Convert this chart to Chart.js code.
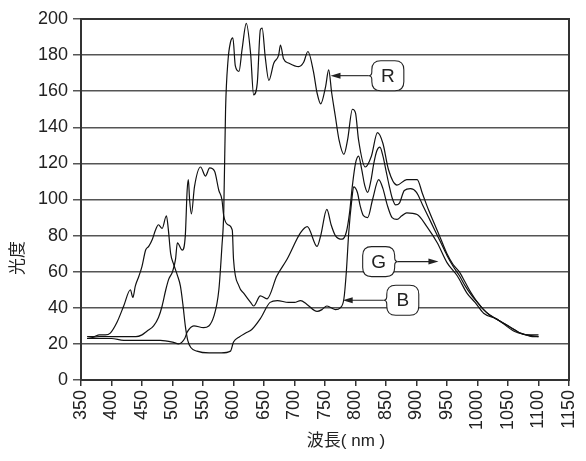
<!DOCTYPE html>
<html>
<head>
<meta charset="utf-8">
<script src="https://cdn.jsdelivr.net/npm/chart.js@4.4.1/dist/chart.umd.min.js"></script>
<style>
html, body { margin: 0; padding: 0; background: #fff; }
canvas { display: block; }
</style>
</head>
<body>
<canvas id="myChart" width="586" height="461"></canvas>
<script>
// wavelength (nm) / brightness samples
var rWl = [360,380,400,420,440,460,480,500,510,520,524,535,551,568,576,581,584,587,591,595,599,603,609,614,621,628,633,639,644,647,652,658,666,674,677,682,691,707,715,722,731,737,743,751,756,761,767,773,781,787,795,800,805,816,826,836,845,854,868,884,901,910,920,930,940,950,960,970,980,990,1000,1010,1020,1030,1040,1050,1060,1070,1080,1090,1100];
var rVal = [23,23,23,22,22,22,22,21,20,23,26.5,30,29,35.5,50,74,93,150,177,187,189.5,174,171,183,197.6,181,158,164.6,194,195,179,166,175.5,180,185.6,178,175.5,173.6,176,182,171,159,153,162.6,171.8,159,146,133,125,133,150,148,133,118,124,137,131,116.6,108,111,111,103,94,86,78,70,64,60,54,48,43,39,36,34,32,30,28,26,25,24,24];

var gWl = [360,380,400,420,440,450,458,469,477,483,489,494,500,505,508,516,521,524,526,528,531,536,546,554,561,569,576,581,584,591,598,600,609,617,628,633,644,655,671,688,710,721,737,743,753,760,767,778,785,790,795,800,805,810,815,820,825,830,835,840,845,850,855,860,866,872,880,890,900,910,920,930,940,950,960,970,980,990,1000,1010,1020,1030,1040,1050,1060,1070,1080,1090,1100];
var gVal = [23,24,24,24,24,25,27,30,34.6,41,50,56,60,67,76,72,80,105,111,100,92,107,118,113,117.5,115.6,105,100,91,86,83,67,52,48,43,41,46.6,45,57.6,67,81.6,85,74,80,94.5,86,80,78,82,92,108,120,124,117,108,104,110,120,127,129,124,116,108,101,97,98,105,106,104,97,90,83,76,69,63,58,52,47,43,39,36,34,32,30,28,26,25,25,25];

var bWl = [360,370,380,390,398,409,420,431,435,439,445,450,456,461,467,472,477,483,490,493,497,502,508,513,517,521,525,530,540,560,580,595,600,610,620,630,644,660,672,690,700,710,720,737,745,753,760,767,775,781,785,789,794,797,803,808,813,820,828,838,845,852,860,868,876,884,901,917,934,950,967,983,996,1010,1032,1060,1080,1100];
var bVal = [24,24,25,25,26,32,41,50,45.7,52,57.6,63,72,74,78,83,86,84,91,84,70,64,58,52,42,30,22,18,16,15,15,16,21,24,26,28,34,43,44,43,43,44,42,38,39,41,40,39,40,45,60,82,100,107,104,96,91,90,100,111,106,97,90,89,91,92.6,91.7,85,76,65,57.6,48,43,37,33.7,27,25,24];

var xTitle = '波長( nm )';
var yTitle = '光度';

// callouts: label, box centre (nm, value), arrow tip (nm)
var notes = [
    { label: 'R', x: 853, y: 168.6, tip: 759 },
    { label: 'G', x: 838, y: 65.6, tip: 936 },
    { label: 'B', x: 877.5, y: 44.2, tip: 779 }
];

function pts(wl, val) {
    return wl.map(function (w, i) { return { x: w, y: val[i] }; });
}

var tickFont = { family: '"Liberation Sans", Arial, sans-serif', size: 18 };

var decorations = {
    id: 'decorations',
    afterDatasetsDraw: function (chart) {
        var ctx = chart.ctx, a = chart.chartArea;
        var xs = chart.scales.x, ys = chart.scales.y;
        ctx.save();
        // frame round the plot
        ctx.strokeStyle = '#333';
        ctx.lineWidth = 2;
        ctx.strokeRect(a.left, a.top, a.right - a.left, a.bottom - a.top);

        // callouts
        notes.forEach(function (n) {
            var cx = xs.getPixelForValue(n.x), cy = ys.getPixelForValue(n.y);
            var tx = xs.getPixelForValue(n.tip);
            var w = 32, h = 30, r = 9;
            var x0 = cx - w / 2, x1 = cx + w / 2, y0 = cy - h / 2, y1 = cy + h / 2;
            var left = tx < cx;
            ctx.lineWidth = 1.1;
            ctx.strokeStyle = '#222';
            ctx.fillStyle = '#fff';
            ctx.beginPath();
            ctx.moveTo(x0 + r, y0);
            ctx.lineTo(x1 - r, y0);
            ctx.quadraticCurveTo(x1, y0, x1, y0 + r);
            if (!left) {
                ctx.lineTo(x1, cy - 4);
                ctx.quadraticCurveTo(x1, cy, x1 + 3, cy);
                ctx.quadraticCurveTo(x1, cy, x1, cy + 4);
            }
            ctx.lineTo(x1, y1 - r);
            ctx.quadraticCurveTo(x1, y1, x1 - r, y1);
            ctx.lineTo(x0 + r, y1);
            ctx.quadraticCurveTo(x0, y1, x0, y1 - r);
            if (left) {
                ctx.lineTo(x0, cy + 4);
                ctx.quadraticCurveTo(x0, cy, x0 - 3, cy);
                ctx.quadraticCurveTo(x0, cy, x0, cy - 4);
            }
            ctx.lineTo(x0, y0 + r);
            ctx.quadraticCurveTo(x0, y0, x0 + r, y0);
            ctx.closePath();
            ctx.fill();
            ctx.stroke();

            // arrow
            var sx = left ? x0 - 3 : x1 + 3;
            var dir = left ? -1 : 1;
            ctx.beginPath();
            ctx.moveTo(sx, cy);
            ctx.lineTo(tx - dir * 8, cy);
            ctx.stroke();
            ctx.fillStyle = '#222';
            ctx.beginPath();
            ctx.moveTo(tx, cy);
            ctx.lineTo(tx - dir * 10, cy - 3);
            ctx.lineTo(tx - dir * 10, cy + 3);
            ctx.closePath();
            ctx.fill();

            ctx.fillStyle = '#222';
            ctx.font = '19px "Liberation Sans", Arial, sans-serif';
            ctx.textAlign = 'center';
            ctx.textBaseline = 'middle';
            ctx.fillText(n.label, cx, cy + 1);
        });

        // axis titles
        ctx.fillStyle = '#222';
        ctx.font = '17px "Liberation Sans", "Noto Sans CJK JP", sans-serif';
        ctx.textAlign = 'center';
        ctx.textBaseline = 'middle';
        ctx.fillText(xTitle, 346, 441);
        ctx.translate(18, 258);
        ctx.rotate(-Math.PI / 2);
        ctx.fillText(yTitle, 0, 0);
        ctx.restore();
    }
};

var config = {
    type: 'line',
    data: {
        datasets: [
            { label: 'R', data: pts(rWl, rVal) },
            { label: 'G', data: pts(gWl, gVal) },
            { label: 'B', data: pts(bWl, bVal) }
        ]
    },
    options: {
        responsive: false,
        animation: false,
        layout: { padding: { top: 19, right: 17, left: 0, bottom: 0 } },
        elements: {
            point: { radius: 0 },
            line: { borderColor: '#111', borderWidth: 1.2, cubicInterpolationMode: 'monotone', fill: false }
        },
        plugins: {
            legend: { display: false },
            tooltip: { enabled: false }
        },
        scales: {
            x: {
                type: 'linear',
                min: 350,
                max: 1150,
                afterFit: function (s) {
                    s.height = 81;
                    s.paddingLeft = 0;
                    s.paddingRight = 0;
                },
                ticks: {
                    stepSize: 50,
                    minRotation: 90,
                    maxRotation: 90,
                    autoSkip: false,
                    padding: 4,
                    color: '#222',
                    font: tickFont,
                    callback: function (v) { return String(v); }
                },
                grid: { drawOnChartArea: false, tickLength: 6, color: '#333', lineWidth: 1.5 },
                border: { color: '#333', width: 2 }
            },
            y: {
                min: 0,
                max: 200,
                afterFit: function (s) {
                    s.width = 81;
                    s.paddingTop = 0;
                    s.paddingBottom = 0;
                },
                ticks: {
                    stepSize: 20,
                    padding: 5,
                    color: '#222',
                    font: tickFont
                },
                grid: { color: '#555', lineWidth: 1.5, tickLength: 8 },
                border: { color: '#333', width: 2 }
            }
        }
    },
    plugins: [decorations]
};

window.onload = function () {
    var ctx = document.getElementById('myChart');
    window.myLine = new Chart(ctx, config);
};
</script>
</body>
</html>
